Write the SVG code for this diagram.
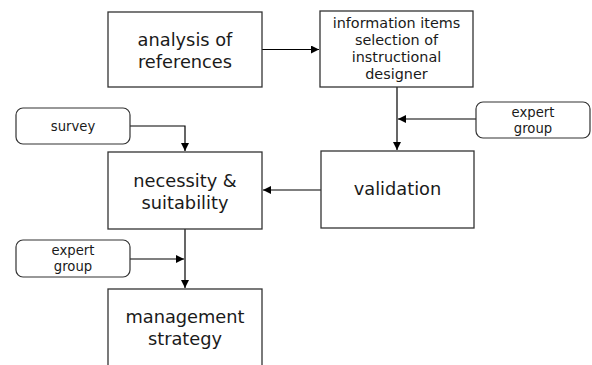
<svg xmlns="http://www.w3.org/2000/svg" width="592" height="365" viewBox="0 0 592 365">
<defs>
<marker id="ah" viewBox="0 0 10 10" refX="10" refY="5" markerWidth="9" markerHeight="8" markerUnits="userSpaceOnUse" orient="auto">
<path d="M0,0 L10,5 L0,10 Z" fill="#000"/>
</marker>
<style>
.box{fill:#fff;stroke:#333;stroke-width:1.3}
.rbox{fill:#fff;stroke:#333;stroke-width:1.2}
.big{font-family:"DejaVu Sans","Noto Sans",sans-serif;font-size:17.8px;fill:#1a1a1a;text-anchor:middle}
.mid{font-family:"DejaVu Sans","Noto Sans",sans-serif;font-size:14.4px;fill:#1a1a1a;text-anchor:middle}
.sm{font-family:"DejaVu Sans","Noto Sans",sans-serif;font-size:13.2px;fill:#1a1a1a;text-anchor:middle}
.con{fill:none;stroke:#000;stroke-width:1.2}
</style>
</defs>
<rect width="592" height="365" fill="#fff"/>
<g id="connectors">
<path class="con" d="M262,49.5 L319,49.5" marker-end="url(#ah)"/>
<path class="con" d="M397,87 L397,150" marker-end="url(#ah)"/>
<path class="con" d="M476,119 L398,119" marker-end="url(#ah)"/>
<path class="con" d="M321,190 L263,190" marker-end="url(#ah)"/>
<path class="con" d="M130,126 L185,126 L185,151" marker-end="url(#ah)"/>
<path class="con" d="M185,229 L185,288" marker-end="url(#ah)"/>
<path class="con" d="M130,259 L184,259" marker-end="url(#ah)"/>
</g>
<g id="analysis">
<rect class="box" x="108" y="12" width="154" height="75"/>
<text class="big" x="185" y="46">analysis of<tspan x="185" dy="22">references</tspan></text>
</g>
<g id="information">
<rect class="box" x="320" y="11" width="153" height="76"/>
<text class="mid" x="396.5" y="28">information items<tspan x="396.5" dy="17">selection of</tspan><tspan x="396.5" dy="17">instructional</tspan><tspan x="396.5" dy="17">designer</tspan></text>
</g>
<g id="expert1">
<rect class="rbox" x="476" y="102" width="114" height="36" rx="7"/>
<text class="sm" x="533" y="116.5">expert<tspan x="533" dy="16.5">group</tspan></text>
</g>
<g id="survey">
<rect class="rbox" x="16" y="108" width="114" height="36" rx="7"/>
<text class="sm" x="73" y="131">survey</text>
</g>
<g id="necessity">
<rect class="box" x="108" y="152" width="154" height="77"/>
<text class="big" x="185" y="187">necessity &amp;<tspan x="185" dy="22">suitability</tspan></text>
</g>
<g id="validation">
<rect class="box" x="321" y="151" width="153" height="77"/>
<text class="big" x="397.5" y="195">validation</text>
</g>
<g id="expert2">
<rect class="rbox" x="16" y="240" width="114" height="37" rx="7"/>
<text class="sm" x="73" y="254.5">expert<tspan x="73" dy="16.5">group</tspan></text>
</g>
<g id="management">
<rect class="box" x="108" y="289" width="154" height="90"/>
<text class="big" x="185" y="323">management<tspan x="185" dy="22">strategy</tspan></text>
</g>
</svg>
